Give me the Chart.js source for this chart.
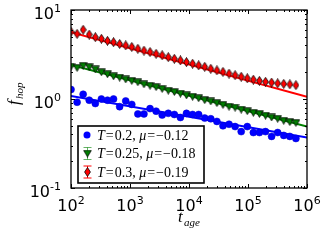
<!DOCTYPE html>
<html>
<head>
<meta charset="utf-8">
<script src="https://cdn.jsdelivr.net/npm/chart.js@4.4.0/dist/chart.umd.min.js"></script>
<style>
  html, body { margin: 0; padding: 0; background: #fff; }
  canvas { display: block; }
</style>
</head>
<body>
<canvas id="hopChart" width="325" height="243"></canvas>
<script>
// aging times (t_age)
const ages = [100, 126.8, 160.7, 203.7, 258.3, 327.4, 415.1, 526.2, 667.1, 845.7,
    1072, 1359, 1723, 2185, 2770, 3511, 4451, 5643, 7154, 9069,
    11497, 14575, 18477, 23424, 29695, 37645, 47723, 60500, 76696, 97228,
    123256, 156255, 198085, 251113, 318336, 403554, 511586, 648543];

// hopping rates per temperature
const fT020 = [1.28, 0.92, 1.13, 0.97, 0.89, 1.0, 0.97, 1.0, 0.82, 0.95,
    0.87, 0.68, 0.68, 0.78, 0.73, 0.66, 0.69, 0.67, 0.62, 0.69,
    0.67, 0.67, 0.61, 0.60, 0.56, 0.50, 0.52, 0.49, 0.43, 0.49,
    0.42, 0.42, 0.43, 0.38, 0.42, 0.39, 0.38, 0.36];
const fT025 = [2.31, 2.24, 2.36, 2.28, 2.15, 2.0, 1.9, 1.8, 1.74, 1.66,
    1.6, 1.54, 1.46, 1.41, 1.36, 1.3, 1.24, 1.2, 1.15, 1.1,
    1.06, 1.02, 0.97, 0.94, 0.9, 0.86, 0.82, 0.8, 0.76, 0.73,
    0.7, 0.68, 0.65, 0.62, 0.6, 0.57, 0.55, 0.54];
const fT030 = [5.7, 5.4, 6.0, 5.3, 4.95, 4.75, 4.5, 4.35, 4.15, 4.0,
    3.85, 3.67, 3.5, 3.37, 3.22, 3.1, 2.95, 2.83, 2.72, 2.6,
    2.49, 2.39, 2.3, 2.19, 2.1, 2.02, 1.93, 1.85, 1.78, 1.71,
    1.65, 1.6, 1.56, 1.53, 1.5, 1.48, 1.46, 1.43];

// power law fits, evaluated at the ends of the x range
const fitAges = [100, 1e6];
const fitT020 = [1.08, 0.37];
const fitT025 = [2.41, 0.49];
const fitT030 = [5.64, 1.06];

const xTickExp = [2, 3, 4, 5, 6];
const yTickExp = [-1, 0, 1];

const legendRows = [
    { T: '0.2', mu: '\u22120.12' },
    { T: '0.25', mu: '\u22120.18' },
    { T: '0.3', mu: '\u22120.19' }
];

const MATH = '"Liberation Serif", "DejaVu Serif", serif';
const SANS = '"DejaVu Sans", sans-serif';

function toPoints(xs, ys) {
    return xs.map((x, i) => ({ x: x, y: ys[i] }));
}

// marker images
function thinDiamond() {
    const c = document.createElement('canvas');
    c.width = 7; c.height = 10;
    const g = c.getContext('2d');
    g.beginPath();
    g.moveTo(3.5, 0.5); g.lineTo(6.4, 5); g.lineTo(3.5, 9.5); g.lineTo(0.6, 5);
    g.closePath();
    g.fillStyle = '#ff0000'; g.fill();
    g.strokeStyle = '#000'; g.lineWidth = 0.8; g.stroke();
    return c;
}
function downTriangle() {
    const c = document.createElement('canvas');
    c.width = 9; c.height = 8;
    const g = c.getContext('2d');
    g.beginPath();
    g.moveTo(0.6, 0.8); g.lineTo(8.4, 0.8); g.lineTo(4.5, 7.4);
    g.closePath();
    g.fillStyle = '#008000'; g.fill();
    g.strokeStyle = '#000'; g.lineWidth = 0.8; g.stroke();
    return c;
}
const diamondImg = thinDiamond();
const triImg = downTriangle();

function drawPow(ctx, x, y, base, exp, baseSize, supSize, supRise, align) {
    ctx.font = baseSize + 'px ' + SANS;
    const wb = ctx.measureText(base).width;
    ctx.font = supSize + 'px ' + SANS;
    const we = ctx.measureText(exp).width;
    let x0 = x;
    if (align === 'center') x0 = x - (wb + we) / 2;
    else if (align === 'right') x0 = x - (wb + we);
    ctx.textAlign = 'left';
    ctx.textBaseline = 'alphabetic';
    ctx.font = baseSize + 'px ' + SANS;
    ctx.fillText(base, x0, y);
    ctx.font = supSize + 'px ' + SANS;
    ctx.fillText(exp, x0 + wb, y - supRise);
}

function drawSegments(ctx, segs, x, y, size) {
    let cx = x;
    segs.forEach(s => {
        ctx.font = (s.it ? 'italic ' : '') + size + 'px ' + MATH;
        cx += s.pre || 0;
        ctx.fillText(s.t, cx, y);
        cx += ctx.measureText(s.t).width + (s.post || 0);
    });
}

const decorations = {
    id: 'decorations',
    afterDraw(chart) {
        const ctx = chart.ctx;
        const a = chart.chartArea;
        const xs = chart.scales.x, ys = chart.scales.y;
        ctx.save();
        ctx.strokeStyle = '#000';
        ctx.fillStyle = '#000';

        // inward ticks on all four sides
        ctx.lineWidth = 1;
        ctx.beginPath();
        for (let e = 2; e <= 6; e++) {
            for (let k = 1; k <= 9; k++) {
                if (e === 6 && k > 1) break;
                const v = k * Math.pow(10, e);
                const px = Math.round(xs.getPixelForValue(v)) + 0.5;
                const len = k === 1 ? 4 : 2;
                ctx.moveTo(px, a.bottom); ctx.lineTo(px, a.bottom - len);
                ctx.moveTo(px, a.top); ctx.lineTo(px, a.top + len);
            }
        }
        for (let e = -1; e <= 1; e++) {
            for (let k = 1; k <= 9; k++) {
                if (e === 1 && k > 1) break;
                const v = k * Math.pow(10, e);
                const py = Math.round(ys.getPixelForValue(v)) + 0.5;
                const len = k === 1 ? 4 : 2;
                ctx.moveTo(a.left, py); ctx.lineTo(a.left + len, py);
                ctx.moveTo(a.right, py); ctx.lineTo(a.right - len, py);
            }
        }
        ctx.stroke();

        // frame
        ctx.lineWidth = 1.3;
        ctx.strokeRect(a.left, a.top, a.right - a.left, a.bottom - a.top);

        // tick labels
        xTickExp.forEach(e => {
            const px = xs.getPixelForValue(Math.pow(10, e));
            drawPow(ctx, px, 211, '10', String(e), 16, 11, 7, 'center');
        });
        yTickExp.forEach(e => {
            const py = ys.getPixelForValue(Math.pow(10, e));
            drawPow(ctx, 61, py + 8.5, '10', e < 0 ? '-' + (-e) : String(e), 16, 11, 7, 'right');
        });

        // axis titles
        ctx.textAlign = 'left';
        ctx.textBaseline = 'alphabetic';
        ctx.font = 'italic 17px ' + MATH;
        ctx.fillText('t', 178, 222);
        ctx.font = 'italic 11px ' + MATH;
        ctx.fillText('age', 184, 226);

        ctx.save();
        ctx.translate(19, 105);
        ctx.rotate(-Math.PI / 2);
        ctx.font = 'italic 17px ' + MATH;
        ctx.fillText('f', 0, 0);
        ctx.font = 'italic 11px ' + MATH;
        ctx.fillText('hop', 6, 4);
        ctx.restore();

        // legend
        const lx = 78, ly = 126, lw = 126, lh = 57;
        ctx.fillStyle = '#fff';
        ctx.fillRect(lx, ly, lw, lh);
        ctx.lineWidth = 1.6;
        ctx.strokeStyle = '#000';
        ctx.strokeRect(lx, ly, lw, lh);

        const rowY = [135, 153.5, 172];
        const mx = 87;
        // blue circle
        ctx.beginPath();
        ctx.arc(mx, rowY[0], 3.5, 0, Math.PI * 2);
        ctx.fillStyle = '#0000ff';
        ctx.fill();
        // error bar symbols
        [['rgba(0,128,0,0.6)', triImg, rowY[1]], ['#ff0000', diamondImg, rowY[2]]].forEach(r => {
            const cy = r[2];
            ctx.strokeStyle = r[0];
            ctx.lineWidth = 1;
            ctx.beginPath();
            ctx.moveTo(mx + 0.5, cy - 6); ctx.lineTo(mx + 0.5, cy + 6);
            ctx.moveTo(mx - 3.5, cy - 6); ctx.lineTo(mx + 4.5, cy - 6);
            ctx.moveTo(mx - 3.5, cy + 6); ctx.lineTo(mx + 4.5, cy + 6);
            ctx.stroke();
            ctx.drawImage(r[1], mx - r[1].width / 2 + 0.5, cy - r[1].height / 2);
        });

        ctx.fillStyle = '#000';
        legendRows.forEach((row, i) => {
            drawSegments(ctx, [
                { t: 'T', it: true },
                { t: '=', pre: 1, post: 1 },
                { t: row.T + ', ' },
                { t: '\u03bc', it: true },
                { t: '=', pre: 1, post: 1 },
                { t: row.mu }
            ], 97, rowY[i] + 4.5, 14);
        });

        ctx.restore();
    }
};

const ctx = document.getElementById('hopChart');
new Chart(ctx, {
    type: 'scatter',
    data: {
        datasets: [
            {
                label: 'T=0.2',
                data: toPoints(ages, fT020),
                pointStyle: 'circle',
                pointRadius: 3.5,
                backgroundColor: '#0000ff',
                borderColor: '#0000cc',
                borderWidth: 0.5,
                clip: 0,
                order: 0
            },
            {
                label: 'T=0.25',
                data: toPoints(ages, fT025),
                pointStyle: triImg,
                clip: 0,
                order: 0
            },
            {
                label: 'T=0.3',
                data: toPoints(ages, fT030),
                pointStyle: diamondImg,
                clip: 0,
                order: 0
            },
            {
                label: 'fit 0.2',
                data: toPoints(fitAges, fitT020),
                showLine: true,
                pointRadius: 0,
                borderColor: '#0000ff',
                borderWidth: 2,
                clip: 0,
                order: 1
            },
            {
                label: 'fit 0.25',
                data: toPoints(fitAges, fitT025),
                showLine: true,
                pointRadius: 0,
                borderColor: '#008000',
                borderWidth: 2,
                clip: 0,
                order: 1
            },
            {
                label: 'fit 0.3',
                data: toPoints(fitAges, fitT030),
                showLine: true,
                pointRadius: 0,
                borderColor: '#ff0000',
                borderWidth: 2,
                clip: 0,
                order: 1
            }
        ]
    },
    options: {
        responsive: false,
        animation: false,
        devicePixelRatio: 1,
        layout: { padding: { left: 71, right: 18, top: 10, bottom: 55 } },
        scales: {
            x: { type: 'logarithmic', min: 100, max: 1e6, display: false },
            y: { type: 'logarithmic', min: 0.1, max: 10, display: false }
        },
        plugins: {
            legend: { display: false },
            tooltip: { enabled: false }
        },
        events: []
    },
    plugins: [decorations]
});
</script>
</body>
</html>
